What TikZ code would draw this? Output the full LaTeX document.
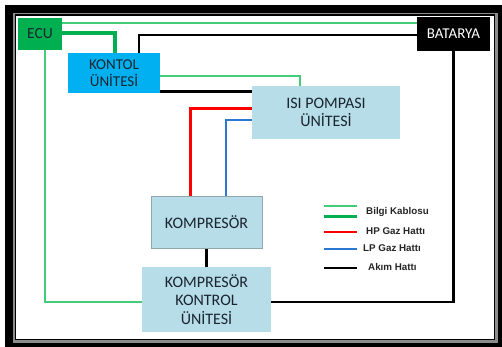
\documentclass[tikz,border=0pt]{standalone}
\usepackage{fontspec}
\setmainfont{Carlito}
\newfontfamily\legendfont{Liberation Sans}
\definecolor{ecugreen}{HTML}{00B050}
\definecolor{thingreen}{HTML}{45CC7A}
\definecolor{kontcyan}{HTML}{00B0F0}
\definecolor{lightbl}{HTML}{B7DDE8}
\definecolor{boxedge}{HTML}{8FA8AE}
\definecolor{txtdark}{HTML}{1A2530}
\definecolor{lpblue}{HTML}{2A78D2}
\begin{document}
\begin{tikzpicture}[x=1pt,y=-1pt,
  unit/.style={inner sep=0pt, align=center, text=txtdark,
    font=\fontsize{16}{18.5}\selectfont},
  info/.style={draw=thingreen, line width=1.8pt},
  infothick/.style={draw=ecugreen, line width=3.4pt},
  power/.style={draw=black, line width=2.8pt},
  hpline/.style={draw=red, line width=3pt},
  lpline/.style={draw=lpblue, line width=2.4pt},
  legtext/.style={anchor=west, inner sep=0pt, text=black!85,
    font=\legendfont\bfseries\fontsize{9.8}{11}\selectfont}
]
\useasboundingbox (0,0) rectangle (502,347);
% frame
\fill[black] (5,5) rectangle (502,347);
\fill[black!45] (13,13) rectangle (498,343);
\fill[black] (14.5,14.5) rectangle (495,340);
\fill[white] (16,16) rectangle (493.5,338.5);

% nodes
\node[unit, fill=ecugreen, minimum width=44pt, minimum height=32pt,
  font=\fontsize{15.5}{17}\selectfont] (ecu) at (40,34) {ECU};
\node[unit, fill=kontcyan, minimum width=92pt, minimum height=40pt,
  font=\fontsize{15}{17}\selectfont] (kon) at (114,73) {KONTOL\\ÜNİTESİ};
\node[unit, fill=black, text=white, minimum width=73pt, minimum height=34pt,
  font=\fontsize{15}{17}\selectfont] (bat) at (453.5,34) {BATARYA};
\node[unit, fill=lightbl, minimum width=148pt, minimum height=53pt] (isi)
  at (326,112.5) {ISI POMPASI\\ÜNİTESİ};
\node[unit, fill=lightbl, draw=boxedge, line width=1pt, minimum width=111pt,
  minimum height=52pt] (kom) at (206.5,222) {KOMPRESÖR};
\node[unit, fill=lightbl, minimum width=129pt, minimum height=65pt] (kku)
  at (206.5,299.5) {KOMPRESÖR\\KONTROL\\ÜNİTESİ};

% connectors
\draw[info] (ecu.east |- 0,23) -- (bat.west |- 0,23);
\draw[infothick] (ecu.east |- 0,33) -| (115,0 |- kon.north);
\draw[power] (139,0 |- kon.north) |- (bat.west |- 0,35);
\draw[info] (kon.east |- 0,76) -| (300,0 |- isi.north);
\draw[power] (kon.east |- 0,91.5) -- (isi.west |- 0,91.5);
\draw[hpline] (isi.west |- 0,109) -| (190,0 |- kom.north);
\draw[lpline] (isi.west |- 0,120) -| (226,0 |- kom.north);
\draw[power] (kom.south) -- (kku.north);
\draw[info] (45,0 |- ecu.south) |- (kku.west |- 0,302);
\draw[power] (bat.south) |- (kku.east |- 0,302);

% legend
\coordinate (l1a) at (324,206); \coordinate (l1b) at (357,206);
\coordinate (l2a) at (324,216.5); \coordinate (l2b) at (357,216.5);
\coordinate (l3a) at (324,232); \coordinate (l3b) at (357,232);
\coordinate (l4a) at (324,249); \coordinate (l4b) at (357,249);
\coordinate (l5a) at (324,268); \coordinate (l5b) at (357,268);
\draw[draw=thingreen, line width=1.3pt] (l1a) -- (l1b);
\draw[draw=ecugreen, line width=3.6pt] (l2a) -- (l2b);
\draw[draw=red, line width=2.5pt] (l3a) -- (l3b);
\draw[draw=lpblue, line width=2.5pt] (l4a) -- (l4b);
\draw[draw=black, line width=2.5pt] (l5a) -- (l5b);
\node[legtext] (t1) at (366,212) {Bilgi Kablosu};
\node[legtext] (t2) at (366,231) {HP Gaz Hattı};
\node[legtext] (t3) at (363,248) {LP Gaz Hattı};
\node[legtext] (t4) at (368,267) {Akım Hattı};
\end{tikzpicture}
\end{document}
